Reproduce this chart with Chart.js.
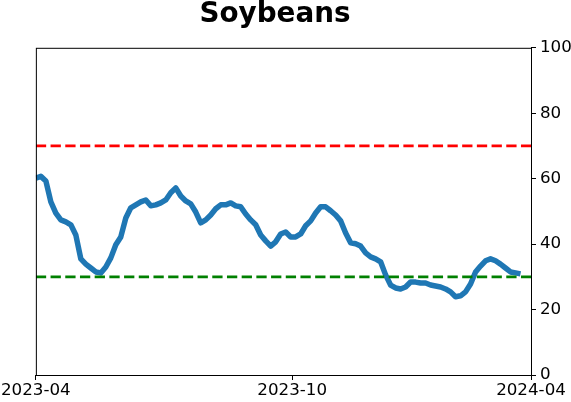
<!DOCTYPE html>
<html>
<head>
<meta charset="utf-8">
<script src="https://cdn.jsdelivr.net/npm/chart.js@4"></script>
<style>
  body { margin: 0; background: #fff; }
  #wrap { width: 571px; height: 402px; position: relative; }
</style>
</head>
<body>
<div id="wrap"><canvas id="js-line-chart"></canvas></div>
<script>
// Series values, one every few trading days
const values = [
  60.2, 60.7, 59.3, 52.9, 49.5, 47.4, 46.8, 45.9, 42.8, 35.5,
  33.9, 32.7, 31.5, 31.2, 33.0, 35.8, 39.8, 42.2, 48.0, 51.1,
  52.0, 52.9, 53.5, 51.7, 52.0, 52.6, 53.5, 55.7, 57.2, 54.7,
  53.2, 52.3, 49.8, 46.5, 47.4, 48.9, 50.8, 52.0, 52.0, 52.6,
  51.7, 51.4, 49.2, 47.4, 45.9, 42.8, 41.0, 39.4, 40.7, 43.1,
  43.7, 42.2, 42.2, 43.1, 45.6, 47.1, 49.5, 51.4, 51.4, 50.2,
  48.9, 47.1, 43.4, 40.4, 40.1, 39.4, 37.3, 36.1, 35.5, 34.6,
  30.6, 27.5, 26.6, 26.3, 26.9, 28.4, 28.4, 28.1, 28.1, 27.5,
  27.2, 26.9, 26.3, 25.4, 23.9, 24.2, 25.4, 27.8, 31.5, 33.3,
  34.9, 35.5, 34.9, 33.9, 32.7, 31.5, 31.2, 30.9
];

// X axis runs over the whole period, the series stops a bit before the end
const xMax = 99.1;
const tickPositions = [0, 51.3, 99.1];
const tickLabels = ['2023-04', '2023-10', '2024-04'];

// Reference levels
const upperLevel = 70;
const lowerLevel = 30;

const points = values.map((v, i) => ({ x: i, y: v }));
const flat = (y) => [{ x: 0, y: y }, { x: xMax, y: y }];

// Draw the full box round the plot like matplotlib does
const frame = {
  id: 'frame',
  afterDatasetsDraw(chart) {
    const a = chart.chartArea;
    const ctx = chart.ctx;
    ctx.save();
    ctx.strokeStyle = '#000';
    ctx.lineWidth = 1;
    ctx.strokeRect(a.left + 0.5, a.top + 0.5, a.right - a.left, a.bottom - a.top);
    ctx.restore();
  },
};

Chart.defaults.font.family = 'DejaVu Sans';
Chart.defaults.color = '#000';

const ctx = document.getElementById('js-line-chart').getContext('2d');

new Chart(ctx, {
  type: 'line',
  data: {
    datasets: [
      {
        data: flat(upperLevel),
        borderColor: '#ff0000',
        borderWidth: 2.8,
        borderDash: [10.3, 4.4],
        pointRadius: 0,
      },
      {
        data: flat(lowerLevel),
        borderColor: '#008000',
        borderWidth: 2.8,
        borderDash: [10.3, 4.4],
        pointRadius: 0,
      },
      {
        data: points,
        borderColor: '#1f77b4',
        borderWidth: 5.5,
        borderJoinStyle: 'round',
        pointRadius: 0,
        tension: 0,
      },
    ],
  },
  options: {
    responsive: true,
    maintainAspectRatio: false,
    animation: false,
    // negative left padding only moves the title box so it is centred like the picture
    layout: { padding: { left: -21, right: 0, top: 0, bottom: 0 } },
    plugins: {
      legend: { display: false },
      tooltip: { enabled: false },
      title: {
        display: true,
        text: 'Soybeans',
        font: { size: 27.8, weight: 'bold', lineHeight: 1 },
        padding: { top: 1, bottom: 19 },
      },
    },
    scales: {
      x: {
        type: 'linear',
        min: 0,
        max: xMax,
        afterBuildTicks: (axis) => {
          axis.ticks = tickPositions.map((v) => ({ value: v }));
        },
        afterFit: (axis) => { axis.height = 27; },
        ticks: {
          autoSkip: false,
          maxRotation: 0,
          padding: 1,
          font: { size: 16.7 },
          callback: (value) => tickLabels[tickPositions.indexOf(value)],
        },
        grid: { drawOnChartArea: false, tickLength: 5, color: '#000' },
        border: { color: '#000' },
      },
      y: {
        position: 'right',
        min: 0,
        max: 100,
        afterFit: (axis) => { axis.width = 40; },
        ticks: { stepSize: 20, padding: 4, font: { size: 16.7 } },
        grid: { drawOnChartArea: false, tickLength: 5, color: '#000' },
        border: { color: '#000' },
      },
      // empty left axis, only holds the space left of the plot
      yLeft: {
        position: 'left',
        afterFit: (axis) => { axis.width = 56; },
        ticks: { display: false },
        grid: { display: false },
        border: { display: false },
      },
    },
  },
  plugins: [frame],
});
</script>
</body>
</html>
